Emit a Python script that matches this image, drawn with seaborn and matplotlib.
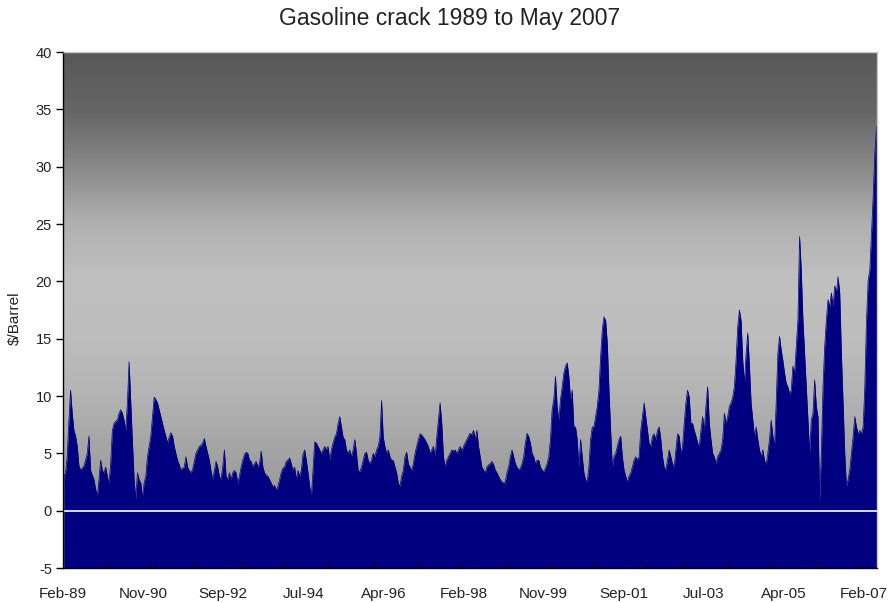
import numpy as np
import pandas as pd
import matplotlib
matplotlib.use("Agg")
import matplotlib.pyplot as plt
from matplotlib.colors import LinearSegmentedColormap
from matplotlib.ticker import FixedLocator
import seaborn as sns

# Gasoline crack spread, $/barrel, sampled roughly every two weeks
crack_89_92 = [3.0, 3.3, 4.7, 7.8, 10.5, 8.5, 7.0, 6.5, 5.6, 3.9, 3.55, 3.7, 3.9, 4.4, 5.0, 6.5, 3.5, 3.1,
               2.7, 1.9, 1.2, 2.7, 4.4, 3.5, 3.3, 3.8, 3.0, 2.4, 4.1, 7.0, 7.6, 7.8, 7.9, 8.5, 8.8, 8.5,
               7.9, 7.0, 9.4, 13.0, 9.4, 6.0, 2.7, 1.0, 3.3, 2.7, 2.4, 1.2, 2.4, 3.0, 4.7, 5.6, 6.5, 8.2,
               9.9, 9.7, 9.4, 8.8, 8.2, 7.6, 7.0, 6.5, 5.9, 6.4, 6.8, 6.5, 5.6, 5.0, 4.4, 4.0, 3.55, 3.7,
               3.8, 4.7, 3.8, 3.5, 3.3, 3.6, 4.3, 5.0, 5.3, 5.6, 5.7, 5.9, 6.3]
crack_92_95 = [5.6, 5.0, 4.4, 3.5, 2.7, 3.5, 4.3, 3.8, 3.0, 2.7, 3.8, 5.3, 3.0, 2.7, 3.3, 2.7, 3.3, 3.5,
               3.3, 2.4, 3.0, 3.8, 4.4, 4.9, 5.1, 5.0, 4.4, 4.3, 3.8, 4.1, 4.3, 3.8, 4.1, 5.2, 3.8, 3.3,
               3.1, 3.0, 2.7, 2.4, 2.1, 2.2, 1.8, 2.1, 2.7, 3.3, 3.7, 3.8, 4.3, 4.4, 4.6, 4.1, 3.5, 3.8,
               2.7, 3.5, 3.0, 3.5, 4.9, 5.3, 4.4, 3.3, 2.1, 1.2, 3.5, 6.0, 5.9, 5.6, 5.3, 5.0, 5.3, 5.6,
               5.3]
crack_95_98 = [5.6, 4.4, 5.3, 5.9, 6.4, 6.7, 7.6, 8.2, 7.3, 6.4, 6.2, 5.3, 5.0, 5.3, 4.7, 5.3, 6.2, 5.0,
               3.5, 3.4, 3.8, 4.4, 5.0, 5.1, 4.4, 4.1, 4.4, 5.0, 4.7, 5.3, 5.6, 6.4, 9.6, 6.4, 5.6, 5.0,
               5.3, 4.7, 4.4, 4.4, 3.8, 3.3, 2.4, 2.1, 3.0, 3.5, 4.7, 5.1, 4.1, 3.8, 3.5, 4.1, 5.0, 5.6,
               6.2, 6.7, 6.6, 6.4, 6.2, 5.9, 5.6, 5.0, 5.3, 5.6, 4.7, 6.4, 7.9, 9.4, 7.6, 4.7, 3.8, 4.4,
               4.7, 5.0, 5.3, 5.2, 5.3, 5.0, 5.3, 5.6, 5.2, 5.6, 5.9, 6.2]
crack_98_01 = [6.5, 6.75, 6.6, 7.0, 6.2, 7.0, 5.6, 4.7, 3.8, 3.55, 3.3, 3.8, 4.0, 4.1, 4.3, 4.0, 3.55, 3.3,
               3.0, 2.7, 2.5, 2.4, 2.5, 3.3, 3.8, 4.7, 5.3, 4.7, 4.1, 3.8, 3.55, 3.7, 4.1, 4.7, 5.9, 6.75,
               6.45, 5.9, 5.0, 4.7, 4.1, 4.4, 4.4, 3.8, 3.55, 3.4, 3.7, 4.1, 4.7, 6.2, 8.8, 9.7, 11.7, 9.1,
               7.9, 9.7, 10.8, 12.0, 12.6, 12.9, 11.7, 9.7, 10.5, 7.3, 7.3, 6.2, 3.8, 6.2, 4.7, 3.3, 2.7,
               2.5, 3.8, 6.2, 7.3, 7.3, 8.2, 9.1]
crack_01_04 = [10.5, 13.4, 15.8, 16.9, 16.6, 14.6, 10.5, 7.0, 3.8, 4.7, 5.0, 5.6, 6.2, 6.5, 4.7, 3.55, 3.0,
               2.5, 3.0, 3.3, 3.8, 4.4, 4.7, 4.4, 4.7, 7.0, 8.2, 9.4, 8.2, 7.0, 5.9, 5.6, 6.5, 6.7, 6.2,
               7.0, 7.3, 6.2, 4.7, 3.8, 3.55, 4.4, 5.3, 4.7, 4.1, 3.8, 5.3, 6.7, 6.5, 5.0, 5.6, 7.6, 9.4,
               10.5, 9.9, 7.6, 7.6, 7.0, 6.5, 5.9, 5.6, 7.0, 8.2, 7.0, 9.1, 10.8, 7.6, 6.2, 5.0, 4.7, 4.1,
               4.7, 5.0, 5.3, 6.2, 8.5, 7.6, 8.2, 9.1, 9.4, 9.9]
crack_04_07 = [10.8, 13.1, 16.0, 17.5, 16.6, 13.1, 11.1, 13.7, 15.5, 12.6, 9.4, 7.9, 6.45, 7.3, 6.2, 5.3,
               4.7, 5.3, 4.4, 4.0, 5.0, 6.2, 7.9, 6.5, 5.6, 9.4, 13.7, 15.2, 14.0, 13.1, 12.0, 11.1, 10.8,
               10.2, 10.5, 12.6, 12.0, 14.3, 16.6, 23.9, 21.0, 16.6, 13.7, 10.8, 7.9, 5.0, 7.9, 8.5, 11.4,
               9.1, 8.2, 0.9, 5.0, 10.8, 14.3, 16.6, 18.4, 17.8, 19.0, 17.8, 19.6, 19.0, 20.4, 19.0, 13.7,
               9.4, 5.0, 2.1, 2.7, 3.55, 5.0, 6.45, 8.2, 7.3, 6.7, 7.0, 6.7, 7.3, 10.8, 16.6, 20.1, 21.0,
               24.2, 27.4, 31.2, 33.5]

tick_labels = ["Feb-89", "Nov-90", "Sep-92", "Jul-94", "Apr-96", "Feb-98",
               "Nov-99", "Sep-01", "Jul-03", "Apr-05", "Feb-07"]
WEEKS_TOTAL = 955          # weekly observations Feb-1989 .. May-2007
LABEL_EVERY = 94           # category label interval (weeks)
MARK_EVERY = 52.1          # tick-mark interval (weeks)

values = np.concatenate([crack_89_92, crack_92_95, crack_95_98,
                         crack_98_01, crack_01_04, crack_04_07])
df = pd.DataFrame({"week": np.linspace(1, WEEKS_TOTAL, len(values)), "crack": values})

sns.set_theme(style="white")
plt.rcParams["font.family"] = ["Liberation Sans", "DejaVu Sans"]
plt.rcParams["axes.unicode_minus"] = False

fig = plt.figure(figsize=(8.9, 6.03), dpi=100)
ax = fig.add_axes([63 / 890, 35 / 603, 813.5 / 890, 516 / 603])
ax.set_axisbelow(False)

ymin, ymax = -5, 40
ax.set_xlim(0, WEEKS_TOTAL)
ax.set_ylim(ymin, ymax)

# grey vertical gradient behind the series
stops = [(0.00, "#7c7c7c"), (0.11, "#959595"), (0.22, "#a3a3a3"), (0.33, "#b3b3b3"),
         (0.44, "#bdbdbd"), (0.56, "#c0c0c0"), (0.67, "#b0b0b0"), (0.78, "#888888"),
         (0.89, "#656565"), (1.00, "#585858")]
cmap = LinearSegmentedColormap.from_list("bg", stops)
grad = np.linspace(0, 1, 512).reshape(-1, 1)
ax.imshow(grad, cmap=cmap, aspect="auto", origin="lower",
          extent=(0, WEEKS_TOTAL, ymin, ymax), zorder=0, interpolation="bilinear")

navy = "#000080"
ax.fill_between(df["week"], ymin, df["crack"], color=navy, lw=0, zorder=1)
sns.lineplot(data=df, x="week", y="crack", color=navy, lw=0.5, ax=ax, zorder=1.2)
ax.axhline(0, color="#ececff", lw=1.3, zorder=1.4)

# axes styling
for side in ("top", "right"):
    ax.spines[side].set_color("#c8c8c8")
    ax.spines[side].set_linewidth(1.0)
for side in ("left", "bottom"):
    ax.spines[side].set_color("black")
    ax.spines[side].set_linewidth(1.0)

ax.set_yticks(np.arange(-5, 41, 5))
ax.tick_params(axis="y", direction="out", length=5, width=1, color="black",
               labelsize=10.5, labelcolor="#222222", pad=3, left=True)

ax.set_xticks(np.arange(len(tick_labels)) * LABEL_EVERY)
ax.set_xticklabels(tick_labels)
ax.tick_params(axis="x", which="major", length=0, labelsize=11, labelcolor="#222222", pad=14)
ax.xaxis.set_minor_locator(FixedLocator(np.arange(MARK_EVERY, WEEKS_TOTAL, MARK_EVERY)))
ax.tick_params(axis="x", which="minor", direction="in", length=4, width=1, color="#111111", bottom=True)

ax.set_xlabel("")
ax.set_ylabel("")
fig.text(15 / 890, 1 - 318 / 603, r"\$/Barrel", rotation=90, ha="center", va="center",
         fontsize=11, color="#222222")
fig.text(450 / 890, 1 - 18 / 603, "Gasoline crack 1989 to May 2007", ha="center", va="center",
         fontsize=16.5, color="#222222")

fig.savefig("out.png", dpi=100)
